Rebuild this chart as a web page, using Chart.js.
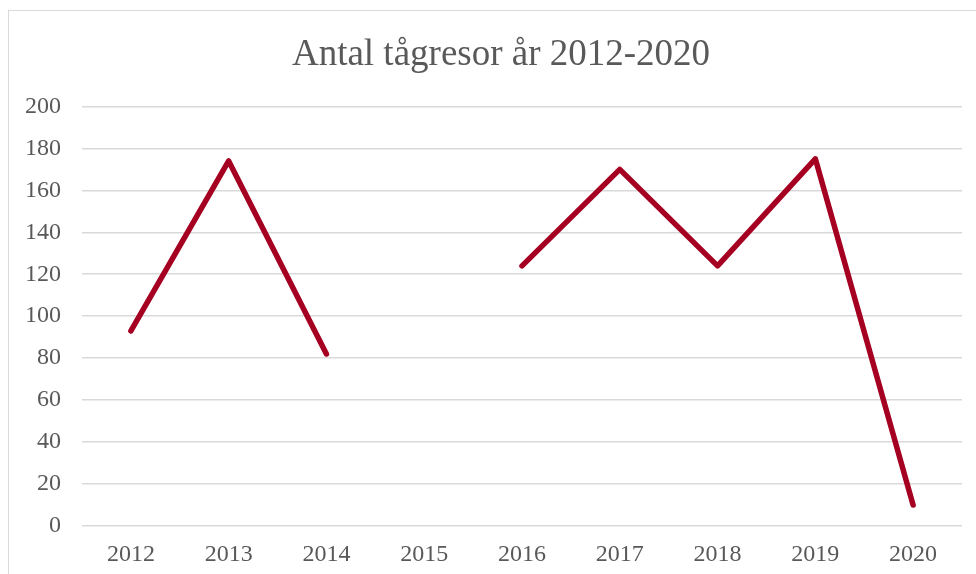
<!DOCTYPE html>
<html>
<head>
<meta charset="utf-8">
<script src="https://cdn.jsdelivr.net/npm/chart.js@4"></script>
<style>
  html, body { margin: 0; padding: 0; background: #fff; overflow: hidden; }
  #frame { position: absolute; left: 8px; top: 10px; width: 1000px; height: 600px; border: 1px solid #d9d9d9; }
  #wrap { position: absolute; left: 0; top: 0; width: 1002px; height: 574px; }
</style>
</head>
<body>
<div id="frame"></div>
<div id="wrap"><canvas id="chart" width="1002" height="574"></canvas></div>
<script>
// data
const years = ['2012', '2013', '2014', '2015', '2016', '2017', '2018', '2019', '2020'];
const trips = [93, 174, 82, null, 124, 170, 124, 175, 10];
const yTicks = [0, 20, 40, 60, 80, 100, 120, 140, 160, 180, 200];

const serif = "'Liberation Serif', 'Times New Roman', serif";
const textColor = '#595959';

new Chart(document.getElementById('chart'), {
    type: 'line',
    data: {
        labels: years,
        datasets: [{
            data: trips,
            borderColor: '#a50021',
            borderWidth: 5.5,
            borderCapStyle: 'round',
            borderJoinStyle: 'round',
            pointRadius: 0,
            spanGaps: false,
            tension: 0
        }]
    },
    options: {
        responsive: false,
        animation: false,
        layout: { padding: 0 },
        plugins: {
            legend: { display: false },
            tooltip: { enabled: false },
            title: {
                display: true,
                text: 'Antal tågresor år 2012-2020',
                color: textColor,
                font: { family: serif, size: 37, weight: 'normal' },
                padding: { top: 33, bottom: 29 }
            }
        },
        scales: {
            x: {
                offset: true,
                afterFit: s => { s.height = 48; },
                grid: { display: false },
                border: { display: false },
                ticks: { color: textColor, font: { family: serif, size: 24 }, padding: 6, maxRotation: 0 }
            },
            y: {
                min: 0,
                max: 200,
                afterFit: s => { s.width = 82; },
                afterBuildTicks: s => { s.ticks = yTicks.map(v => ({ value: v })); },
                grid: { color: '#d9d9d9', lineWidth: 1.5, drawTicks: false },
                border: { display: false },
                ticks: { color: textColor, font: { family: serif, size: 24 }, padding: 21 }
            },
            // empty right axis so the title centres over the frame like the original
            yRight: {
                position: 'right',
                afterFit: s => { s.width = 40; },
                grid: { display: false },
                border: { display: false },
                ticks: { display: false }
            }
        }
    }
});
</script>
</body>
</html>
